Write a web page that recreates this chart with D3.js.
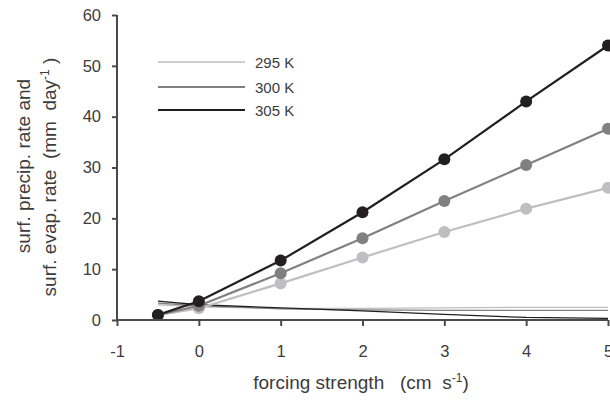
<!DOCTYPE html>
<html><head><meta charset="utf-8">
<script src="https://cdn.jsdelivr.net/npm/d3@7"></script>
<style>body{margin:0;background:#fff}text{font-family:Arial,"Liberation Sans",sans-serif;white-space:pre}</style>
</head><body><svg id="c" width="610" height="400"></svg>
<script>
const forcing = [-0.5, 0, 1, 2, 3, 4, 5];
const seriesNames = ["295 K", "300 K", "305 K"];
const precip295 = [1.0, 2.3, 7.2, 12.3, 17.3, 21.9, 26.0];
const precip300 = [1.0, 2.8, 9.2, 16.1, 23.4, 30.5, 37.6];
const precip305 = [1.0, 3.7, 11.7, 21.2, 31.6, 43.0, 54.0];
const evap295 = [3.0, 2.6, 2.3, 2.3, 2.4, 2.5, 2.5];
const evap300 = [3.3, 2.8, 2.2, 2.0, 1.9, 1.9, 1.9];
const evap305 = [3.7, 3.0, 2.4, 1.8, 1.1, 0.5, 0.3];
const xTicks = [-1, 0, 1, 2, 3, 4, 5];
const yTicks = [0, 10, 20, 30, 40, 50, 60];
const lineColors = ["#bfbfc1", "#808080", "#231f20"];

const svg = d3.select("#c");
const x = d3.scaleLinear().domain([-1, 5]).range([117, 608]);
const y = d3.scaleLinear().domain([0, 60]).range([320, 15]);
const axisCol = "#4a4a4a", textCol = "#3c3c3c";

const precip = [precip295, precip300, precip305];
const evap = [evap295, evap300, evap305];
const line = d3.line().x((d, i) => x(forcing[i])).y(d => y(d));

evap.forEach((s, k) => {
  svg.append("path").attr("d", line(s)).attr("fill", "none")
    .attr("stroke", lineColors[k]).attr("stroke-width", 1.3);
});
precip.forEach((s, k) => {
  svg.append("path").attr("d", line(s)).attr("fill", "none")
    .attr("stroke", lineColors[k]).attr("stroke-width", 2.2);
  svg.selectAll(null).data(s).enter().append("circle")
    .attr("cx", (d, i) => x(forcing[i])).attr("cy", d => y(d)).attr("r", 6)
    .attr("fill", lineColors[k]);
});

const xAxis = svg.append("g").attr("transform", "translate(0,320)")
  .call(d3.axisBottom(x).tickValues(xTicks).tickSize(6).tickPadding(19).tickFormat(d => String(d)));
const yAxis = svg.append("g").attr("transform", "translate(117,0)")
  .call(d3.axisLeft(y).tickValues(yTicks).tickSize(5).tickPadding(11));
[xAxis, yAxis].forEach(a => {
  a.select(".domain").attr("stroke", axisCol).attr("stroke-width", 2);
  a.selectAll(".tick line").attr("stroke", axisCol).attr("stroke-width", 2);
  a.selectAll(".tick text").attr("fill", textCol).style("font-size", "16.5px")
    .style("font-family", "Arial, 'Liberation Sans', sans-serif");
});
xAxis.select(".domain").attr("d", "M117,0H608");
yAxis.select(".domain").attr("d", "M0,15V320");

const xt = svg.append("text").attr("x", 361).attr("y", 389).attr("text-anchor", "middle")
  .attr("fill", textCol).style("font-size", "19px");
xt.append("tspan").text("forcing strength   (cm  s");
xt.append("tspan").attr("dy", -7).style("font-size", "12px").text("-1");
xt.append("tspan").attr("dy", 7).text(")");

const yt = svg.append("g").attr("transform", "rotate(-90)");
yt.append("text").attr("x", -166).attr("y", 30).attr("text-anchor", "middle")
  .attr("fill", textCol).style("font-size", "19px").text("surf. precip. rate and");
const yt2 = yt.append("text").attr("x", -177).attr("y", 56).attr("text-anchor", "middle")
  .attr("fill", textCol).style("font-size", "19px");
yt2.append("tspan").text("surf. evap. rate  (mm  day");
yt2.append("tspan").attr("dy", -7).style("font-size", "12px").text("-1");
yt2.append("tspan").attr("dy", 7).text(" )");

const legY = [62, 87, 110];
seriesNames.forEach((n, k) => {
  svg.append("line").attr("x1", 158).attr("x2", 245).attr("y1", legY[k]).attr("y2", legY[k])
    .attr("stroke", lineColors[k]).attr("stroke-width", k === 0 ? 1.5 : 2);
  svg.append("text").attr("x", 255).attr("y", legY[k] + 5.5).attr("fill", textCol)
    .style("font-size", "15px").text(n);
});
</script></body></html>
